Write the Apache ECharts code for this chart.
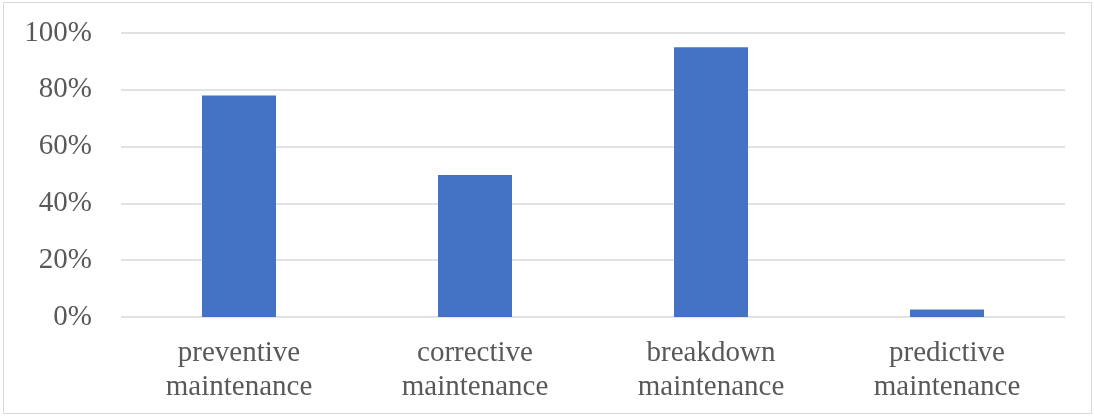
<!DOCTYPE html>
<html lang="en">

<head>
  <meta charset="UTF-8" />
  <title>Maintenance</title>
  <script src="https://cdn.jsdelivr.net/npm/echarts@6/dist/echarts.min.js"></script>
  <style>
    body,
    html {
      margin: 0;
      padding: 0;
      width: 100%;
      height: 100%;
      overflow: hidden;
      background: #ffffff;
    }

    #chart {
      position: absolute;
      left: 3px;
      top: 2px;
      width: 1089px;
      height: 412px;
      box-sizing: border-box;
      border: 1px solid #d9d9d9;
    }
  </style>
</head>

<body>
  <div id="chart"></div>
</body>
<script>
  var categories = ['preventive\nmaintenance', 'corrective\nmaintenance', 'breakdown\nmaintenance', 'predictive\nmaintenance'];
  var values = [78, 50, 95, 2.6];
  var yTicks = [0, 20, 40, 60, 80, 100];

  var myChart = echarts.init(document.getElementById('chart'));
  var option = {
    animation: false,
    grid: {
      left: 117,
      right: 26,
      top: 30,
      bottom: 96
    },
    xAxis: {
      type: 'category',
      data: categories,
      axisLine: { show: false },
      axisTick: { show: false },
      axisLabel: {
        color: '#595959',
        fontFamily: 'Liberation Serif',
        fontSize: 29,
        lineHeight: 34,
        margin: 19
      }
    },
    yAxis: {
      type: 'value',
      min: yTicks[0],
      max: yTicks[yTicks.length - 1],
      interval: 20,
      axisLine: { show: false },
      axisTick: { show: false },
      splitLine: { lineStyle: { color: '#d9d9d9', width: 1.5 } },
      axisLabel: {
        color: '#595959',
        fontFamily: 'Liberation Serif',
        fontSize: 29,
        margin: 29,
        formatter: '{value}%'
      }
    },
    series: [{
      type: 'bar',
      data: values,
      barWidth: 74,
      itemStyle: { color: '#4472c4' }
    }]
  };
  myChart.setOption(option);
</script>

</html>
